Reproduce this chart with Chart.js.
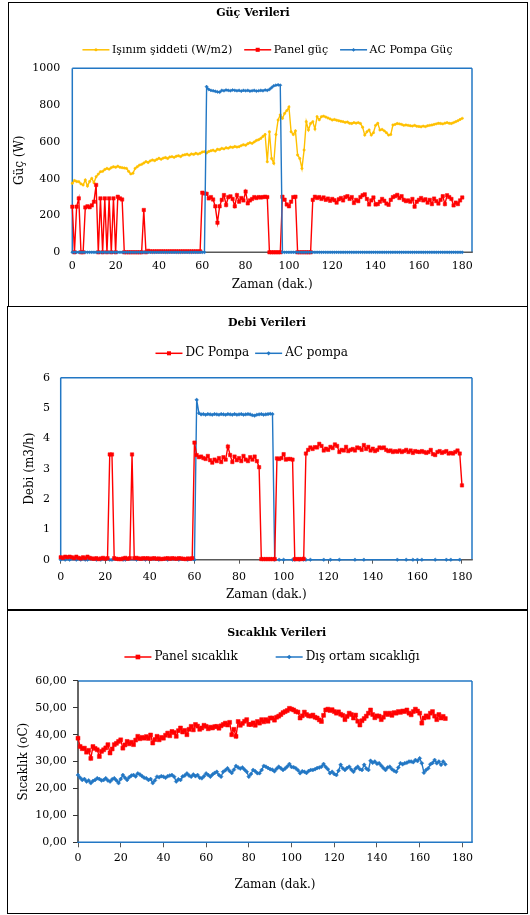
<!DOCTYPE html>
<html>
<head>
<meta charset="utf-8">
<script src="https://cdn.jsdelivr.net/npm/chart.js"></script>
<style>
body{margin:0;background:#fff;width:530px;height:915px;position:relative;overflow:hidden}
.kutu{position:absolute;border:1px solid #000;box-sizing:border-box}
canvas{position:absolute}
</style>
</head>
<body>
<div class="kutu" style="left:8px;top:2px;width:520px;height:305px"></div>
<div class="kutu" style="left:7px;top:306px;width:521px;height:304px"></div>
<div class="kutu" style="left:7px;top:610px;width:521px;height:304px"></div>
<canvas id="guc" width="517" height="302" style="left:9px;top:3px"></canvas>
<canvas id="debi" width="518" height="301" style="left:8px;top:307px"></canvas>
<canvas id="sicaklik" width="518" height="301" style="left:8px;top:611px"></canvas>
<script>
// zaman ekseni: dakika 0..180
const dakika = Array.from({length: 181}, (_, i) => i);
const xTicks = [0, 20, 40, 60, 80, 100, 120, 140, 160, 180];

// Güç verileri (W)
const isinim = [375,390,385,384,372,366,393,360,385,402,
378,411,425,438,440,450,456,452,460,465,
462,468,462,460,458,456,440,426,430,456,
465,474,478,485,493,488,497,502,498,505,
511,506,512,515,510,518,520,516,522,525,
520,528,530,533,528,535,532,538,534,538,
545,547,540,548,552,555,550,560,558,565,
562,568,566,572,570,575,572,574,580,585,
582,590,595,592,600,608,612,619,630,640,
492,655,510,484,640,719,747,728,755,770,
790,655,640,660,529,510,456,556,710,665,
700,710,670,737,720,737,740,735,730,725,
719,722,718,715,712,710,706,708,701,700,
705,702,705,700,680,637,655,665,637,650,
690,701,665,668,660,650,637,640,692,695,
700,698,695,690,692,690,688,686,690,685,
684,682,686,683,688,690,692,695,698,701,
700,698,702,705,701,700,705,710,715,722,
728];
const panelGuc = [248,0,248,293,0,0,244,250,245,255,
275,366,0,293,0,293,0,293,0,293,
0,302,293,287,0,0,0,0,0,0,
0,0,0,230,0,8,5,5,5,5,
5,5,5,5,5,5,5,5,5,5,
5,5,5,5,5,5,5,5,5,5,
324,320,318,293,300,287,250,161,250,285,
311,257,300,304,290,250,311,275,295,282,
330,266,282,290,300,295,300,298,300,302,
300,0,0,0,0,0,0,302,286,260,
250,275,300,302,0,0,0,0,0,0,
0,285,302,295,300,290,298,285,292,280,
290,283,270,288,295,282,300,305,290,300,
268,285,278,300,310,315,290,260,282,298,
260,262,275,290,280,265,258,285,300,305,
312,295,305,285,278,282,275,290,248,275,
285,295,282,288,270,285,262,292,278,265,
285,305,262,310,300,290,255,270,262,282,
298];
const acPompaGuc = [0,0,0,0,0,0,0,0,0,0,
0,0,0,0,0,0,0,0,0,0,
0,0,0,0,0,0,0,0,0,0,
0,0,0,0,0,0,0,0,0,0,
0,0,0,0,0,0,0,0,0,0,
0,0,0,0,0,0,0,0,0,0,
0,0,900,885,880,878,875,872,870,880,
878,882,880,878,882,880,878,880,876,880,
878,880,876,878,880,876,878,880,878,882,
880,885,895,905,908,910,908,0,0,0,
0,0,0,0,0,0,0,0,0,0,
0,0,0,0,0,0,0,0,0,0,
0,0,0,0,0,0,0,0,0,0,
0,0,0,0,0,0,0,0,0,0,
0,0,0,0,0,0,0,0,0,0,
0,0,0,0,0,0,0,0,0,0,
0,0,0,0,0,0,0,0,0,0,
0,0,0,0,0,0,0,0,0,0,
0];

// Debi verileri (m3/h)
const dcPompa = [0.08,0.06,0.10,0.08,0.10,0.08,0.05,0.10,0.06,0.04,
0.08,0.05,0.10,0.06,0.04,0.03,0.05,0.02,0.04,0.06,
0.03,0.05,3.47,3.47,0.05,0.03,0.02,0.02,0.04,0.06,
0.03,0.05,3.47,0.05,0.06,0.04,0.03,0.05,0.04,0.05,
0.03,0.04,0.05,0.03,0.04,0.02,0.03,0.04,0.05,0.03,
0.05,0.04,0.03,0.05,0.04,0.03,0.02,0.04,0.03,0.05,
3.86,3.45,3.38,3.40,3.35,3.32,3.42,3.28,3.20,3.30,
3.25,3.35,3.22,3.38,3.30,3.73,3.45,3.22,3.40,3.28,
3.35,3.25,3.42,3.30,3.25,3.38,3.30,3.40,3.25,3.05,
0.02,0.02,0.02,0.02,0.02,0.02,0.02,3.34,3.32,3.35,
3.48,3.30,3.32,3.32,3.30,0.02,0.02,0.02,0.02,0.03,
3.50,3.62,3.70,3.65,3.71,3.70,3.82,3.75,3.60,3.66,
3.62,3.72,3.68,3.80,3.75,3.55,3.62,3.60,3.72,3.58,
3.62,3.65,3.60,3.70,3.68,3.62,3.78,3.65,3.72,3.60,
3.66,3.58,3.62,3.70,3.68,3.70,3.62,3.58,3.60,3.55,
3.58,3.56,3.60,3.55,3.58,3.62,3.55,3.60,3.52,3.58,
3.56,3.55,3.58,3.55,3.52,3.55,3.62,3.48,3.45,3.55,
3.58,3.52,3.55,3.58,3.50,3.52,3.50,3.55,3.60,3.50,
2.45];
const acPompaZaman = [0,2,4,7,9,11,12,16,18,22,23,28,29,34,38,44,48,53,57,60,
61,62,63,64,65,66,67,68,69,70,71,72,73,74,75,76,77,78,79,80,
81,82,83,84,85,86,87,88,89,90,91,92,93,94,95,
96,98,100,104,105,107,109,110,112,118,121,125,132,136,151,155,158,160,162,168,173,175,179];
const acPompa = [0,0,0,0,0,0,0,0,0,0,0,0,0,0,0,0,0,0,0,0,
5.27,4.83,4.79,4.80,4.78,4.80,4.79,4.78,4.80,4.79,
4.78,4.80,4.79,4.78,4.80,4.79,4.78,4.80,4.78,4.79,
4.80,4.78,4.79,4.80,4.79,4.76,4.75,4.78,4.79,4.80,
4.78,4.79,4.80,4.81,4.80,
0,0,0,0,0,0,0,0,0,0,0,0,0,0,0,0,0,0,0,0,0,0,0];

// Sıcaklık verileri (oC), dakika 0..172
const panelSicaklik = [38.7,35.6,34.8,35.0,33.5,34.2,31.2,35.6,34.9,34.4,
31.9,33.8,34.4,35.1,36.3,33.2,34.7,36.3,36.8,37.5,
38.1,35.0,36.2,37.5,36.6,37.2,36.3,38.0,39.4,38.5,
39.0,38.7,39.3,38.6,39.9,36.9,38.2,39.4,38.1,39.0,
38.7,39.8,40.6,39.6,41.2,40.8,39.4,41.5,42.5,41.0,
41.6,40.0,42.0,43.1,41.8,43.8,43.2,42.0,42.5,43.5,
43.1,42.2,42.8,42.5,43.0,43.1,42.4,43.3,43.8,44.3,
43.6,44.6,40.0,42.0,39.4,44.9,43.5,44.2,45.0,45.6,
43.8,43.8,44.4,43.5,44.9,44.3,45.6,44.8,45.6,45.0,
46.2,46.2,45.4,46.5,46.9,47.5,48.2,48.6,49.0,49.8,
49.5,49.2,48.6,48.4,46.2,47.0,48.4,47.5,47.0,46.9,
47.3,46.5,46.2,45.5,44.9,47.2,49.2,49.5,49.0,49.3,
48.6,48.0,48.5,47.6,47.2,45.6,46.8,48.0,47.5,46.2,
47.3,45.0,43.6,45.2,46.0,46.9,48.0,49.2,47.5,46.3,
47.0,46.9,45.6,46.5,48.0,47.5,48.0,47.2,48.2,48.0,
48.6,48.3,48.8,48.6,49.2,48.0,47.4,48.6,49.5,48.8,
48.0,44.3,46.2,47.0,46.5,48.0,48.6,46.9,45.6,47.5,
46.2,46.8,46.0];
const disOrtam = [25.0,24.0,23.2,23.5,22.6,23.0,22.0,22.8,23.2,23.8,
23.5,23.0,23.2,23.8,23.0,22.6,23.4,23.8,23.0,22.0,
23.5,25.0,24.0,23.2,24.2,24.8,25.0,24.5,25.6,25.2,
24.6,24.0,23.8,23.2,23.5,22.0,23.0,24.4,24.2,24.6,
24.4,24.0,24.6,24.8,25.0,24.4,22.6,23.4,23.2,24.5,
24.8,25.6,24.8,24.4,25.2,24.6,25.0,24.0,23.8,24.6,
25.6,25.0,24.4,25.2,25.8,26.2,25.0,24.4,26.2,26.8,
27.5,26.5,25.8,27.0,28.4,27.8,27.4,27.8,27.0,26.2,
24.4,25.4,26.9,26.4,25.7,25.7,26.9,28.4,28.1,27.6,
27.2,27.0,26.4,27.3,28.1,27.5,26.9,27.4,28.2,29.1,
28.0,27.9,27.5,26.8,25.7,26.4,26.2,25.8,26.5,26.9,
26.9,27.2,27.6,27.8,28.1,29.1,28.0,27.2,25.7,26.2,
25.4,25.0,26.6,28.8,27.5,26.9,27.6,28.1,27.0,26.2,
27.4,28.1,27.2,26.9,28.8,27.4,26.9,30.3,29.6,30.0,
29.2,29.4,28.5,27.6,26.9,27.8,28.1,27.2,26.6,26.2,
27.8,29.4,29.0,29.4,29.6,30.0,30.0,29.8,30.6,30.2,
31.2,29.4,25.9,26.9,27.5,29.0,29.5,30.6,29.4,30.0,
28.8,30.0,29.0];

const kirmizi = '#ff0000', mavi = '#2277c4', sari = '#ffc000', koyu = '#595959';
const yaz = {family: 'DejaVu Serif', size: 11};
const yaz12 = {family: 'DejaVu Serif', size: 12};
const kalin = {family: 'DejaVu Serif', size: 11, weight: 'bold'};

// title / legend kutularini kaydir
const nudge = {
  id: 'nudge',
  afterLayout(chart, args, o) {
    const kay = (b, d) => {
      if (!b || !d) return;
      b.left += d[0]; b.right += d[0]; b.top += d[1]; b.bottom += d[1];
    };
    kay(chart.titleBlock, o.title);
    kay(chart.legend, o.legend);
  }
};

// cizim alaninin kenarlari
const cerceve = {
  id: 'cerceve',
  beforeDatasetsDraw(chart, args, o) {
    const {ctx, chartArea: a} = chart;
    const kenar = (c, x1, y1, x2, y2) => {
      ctx.strokeStyle = c; ctx.lineWidth = 1.5;
      ctx.beginPath(); ctx.moveTo(x1, y1); ctx.lineTo(x2, y2); ctx.stroke();
    };
    ctx.save();
    kenar(o.top, a.left, a.top, a.right, a.top);
    kenar(o.right, a.right, a.top, a.right, a.bottom);
    kenar(o.left, a.left, a.top, a.left, a.bottom);
    kenar(o.bottom, a.left - 0.75, a.bottom, a.right + 0.75, a.bottom);
    ctx.restore();
  }
};

function isaret(ctx, stil, r, x, y) {
  ctx.beginPath();
  if (stil === 'rect') ctx.rect(x - r * 0.75, y - r * 0.75, r * 1.5, r * 1.5);
  else if (stil === 'rectRot') { ctx.moveTo(x, y - r); ctx.lineTo(x + r, y); ctx.lineTo(x, y + r); ctx.lineTo(x - r, y); ctx.closePath(); }
  else ctx.arc(x, y, r, 0, Math.PI * 2);
  ctx.fill();
}

// lejantta cizgi + isaret
const lejant = {
  id: 'lejant',
  afterDraw(chart) {
    const lg = chart.legend;
    if (!lg || !lg.legendHitBoxes) return;
    const ctx = chart.ctx;
    const bw = lg.options.labels.boxWidth;
    lg.legendItems.forEach((it, i) => {
      const h = lg.legendHitBoxes[i];
      const ds = chart.data.datasets[it.datasetIndex];
      const y = h.top + h.height / 2;
      ctx.save();
      ctx.strokeStyle = ds.borderColor; ctx.fillStyle = ds.borderColor; ctx.lineWidth = 1.5;
      ctx.beginPath(); ctx.moveTo(h.left, y); ctx.lineTo(h.left + bw + 3, y); ctx.stroke();
      isaret(ctx, ds.pointStyle, ds.pointRadius + 0.3, h.left + bw / 2 + 1.5, y);
      ctx.restore();
    });
  }
};

function seri(label, xs, ys, color, stil, r, order) {
  return {
    label, yAxisID: 'y', order,
    data: ys.map((v, i) => ({x: xs[i], y: v})),
    borderColor: color, backgroundColor: color,
    pointBackgroundColor: color, pointBorderColor: color,
    borderWidth: 1.4, pointStyle: stil, pointRadius: r, pointBorderWidth: 0.5,
    tension: 0, clip: false
  };
}

function lejantAyar(font, p, hb) {
  return {
    position: 'top',
    labels: {
      font: font, color: '#000', boxWidth: 24, boxHeight: hb, padding: p,
      sort: (a, b) => a.datasetIndex - b.datasetIndex,
      generateLabels: c => Chart.defaults.plugins.legend.labels.generateLabels(c)
        .map(l => Object.assign(l, {fillStyle: 'rgba(0,0,0,0)', strokeStyle: 'rgba(0,0,0,0)', lineWidth: 0}))
    }
  };
}

function xEkseni(h, pad, baslikPad, tl) {
  return {
    type: 'linear', min: 0, max: 184.5,
    afterFit: s => { s.height = h; },
    afterBuildTicks: s => { s.ticks = xTicks.map(v => ({value: v})); },
    ticks: {font: yaz, color: '#000', padding: pad, maxRotation: 0, autoSkip: false},
    grid: tl ? {display: true, drawOnChartArea: false, drawTicks: true, tickLength: tl, color: koyu}
             : {display: false, drawTicks: false},
    border: {display: false},
    title: {display: true, text: 'Zaman (dak.)', font: yaz12, color: '#000', padding: {top: 0, bottom: baslikPad}}
  };
}

function yEkseni(w, max, adim, pad, baslik, baslikPad, fmt, tl) {
  return {
    type: 'linear', position: 'left', min: 0, max: max,
    afterFit: s => { s.width = w; },
    ticks: {font: yaz, color: '#000', padding: pad, stepSize: adim, callback: fmt},
    grid: tl ? {display: true, drawOnChartArea: false, drawTicks: true, tickLength: tl, color: '#333'}
             : {display: false, drawTicks: false},
    border: {display: false},
    title: {display: true, text: baslik, font: yaz12, color: '#000', padding: {top: baslikPad, bottom: 0}}
  };
}

const sagBosluk = {
  position: 'right', display: true,
  afterFit: s => { s.width = 54; },
  ticks: {display: false}, grid: {display: false, drawTicks: false}, border: {display: false}
};

const ortak = {responsive: false, animation: false, devicePixelRatio: 1, layout: {padding: 0}, events: []};

new Chart(document.getElementById('guc'), {
  type: 'line',
  data: {datasets: [
    seri('Işınım şiddeti (W/m2)', dakika, isinim, sari, 'circle', 1.2, 2),
    seri('Panel güç', dakika, panelGuc, kirmizi, 'rect', 2.4, 1),
    seri('AC Pompa Güç', dakika, acPompaGuc, mavi, 'rectRot', 1.6, 0)
  ]},
  options: Object.assign({}, ortak, {
    plugins: {
      title: {display: true, text: 'Güç Verileri', font: kalin, color: '#000', padding: {top: 0, bottom: 13.1}},
      legend: lejantAyar(yaz, 12, 17),
      tooltip: {enabled: false},
      nudge: {title: [-14.5, 3.4], legend: [0, 0]},
      cerceve: {top: mavi, right: mavi, left: mavi, bottom: koyu}
    },
    scales: {
      x: xEkseni(52.7, 7.1, 12.8, 0),
      y: yEkseni(63.3, 1000, 200, 12, 'Güç (W)', 3.8, v => String(v), 0),
      yR: sagBosluk
    }
  }),
  plugins: [nudge, cerceve, lejant]
});

new Chart(document.getElementById('debi'), {
  type: 'line',
  data: {datasets: [
    seri('DC Pompa', dakika, dcPompa, kirmizi, 'rect', 2.4, 0),
    seri('AC pompa', acPompaZaman, acPompa, mavi, 'rectRot', 1.8, 1)
  ]},
  options: Object.assign({}, ortak, {
    plugins: {
      title: {display: true, text: 'Debi Verileri', font: kalin, color: '#000', padding: {top: 0, bottom: 13.5}},
      legend: lejantAyar(yaz12, 6, 28),
      tooltip: {enabled: false},
      nudge: {title: [0, 9.7], legend: [-15.3, -0.4]},
      cerceve: {top: mavi, right: mavi, left: mavi, bottom: koyu}
    },
    scales: {
      x: xEkseni(48.3, 6.4, 5.8, 4),
      y: yEkseni(52.7, 6, 1, 10.7, 'Debi (m3/h)', 14.8, v => String(v), 0),
      yR: sagBosluk
    }
  }),
  plugins: [nudge, cerceve, lejant]
});

const dakika3 = dakika.slice(0, panelSicaklik.length);
new Chart(document.getElementById('sicaklik'), {
  type: 'line',
  data: {datasets: [
    seri('Panel sıcaklık', dakika3, panelSicaklik, kirmizi, 'rect', 2.8, 0),
    seri('Dış ortam sıcaklığı', dakika3, disOrtam, mavi, 'rectRot', 2.0, 1)
  ]},
  options: Object.assign({}, ortak, {
    plugins: {
      title: {display: true, text: 'Sıcaklık Verileri', font: Object.assign({lineHeight: 0.9}, kalin), color: '#000', padding: 0},
      legend: lejantAyar(yaz12, 38, 12),
      tooltip: {enabled: false},
      nudge: {title: [9.7, 17.35], legend: [5, -7.9]},
      cerceve: {top: mavi, right: mavi, left: '#333', bottom: mavi}
    },
    scales: {
      x: xEkseni(69.7, 4.4, 19.8, 5),
      y: yEkseni(70, 60, 10, 6.3, 'Sıcaklık (oC)', 8.8, v => v.toFixed(2).replace('.', ','), 5),
      yR: sagBosluk
    }
  }),
  plugins: [nudge, cerceve, lejant]
});
</script>
</body>
</html>
